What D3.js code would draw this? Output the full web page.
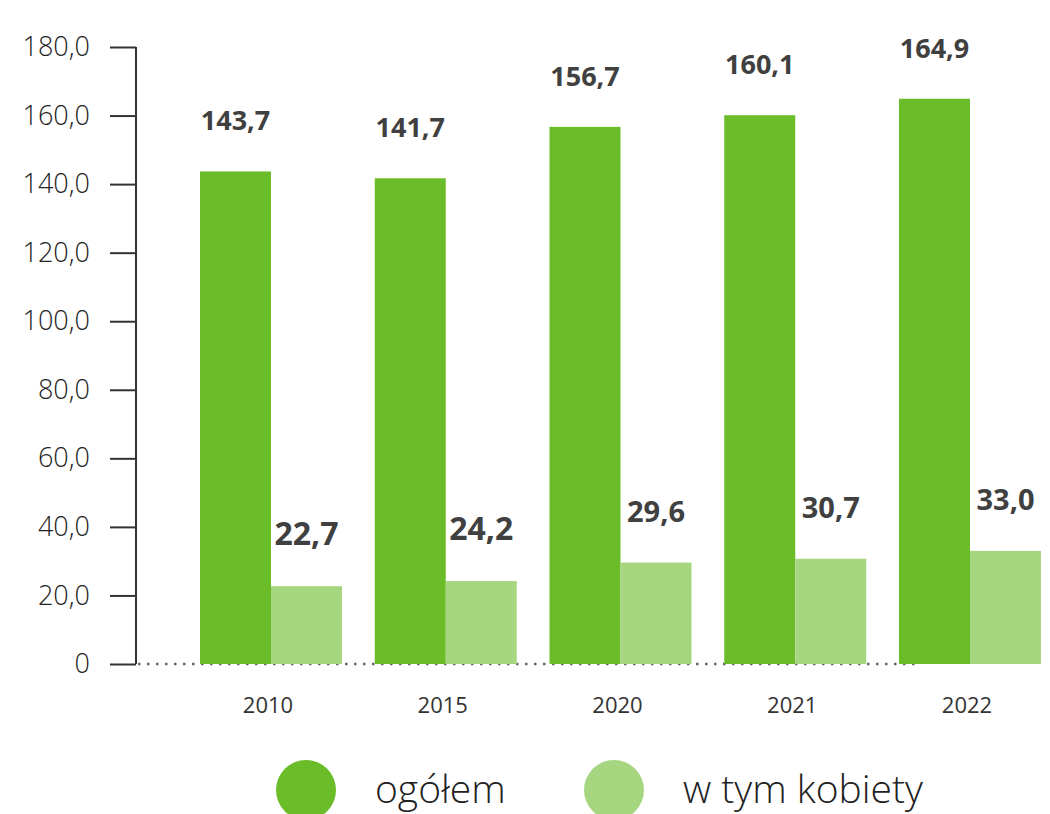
<!DOCTYPE html>
<html lang="pl">
<head>
<meta charset="utf-8">
<title>ogółem / w tym kobiety</title>
<script src="https://cdn.jsdelivr.net/npm/d3@7/dist/d3.min.js"></script>
<style>
  body { margin: 0; background: #fff; }
  svg { display: block; }
</style>
</head>
<body>
<script>
// data
var years = ["2010", "2015", "2020", "2021", "2022"];
var total = [143.7, 141.7, 156.7, 160.1, 164.9];   // ogółem
var women = [22.7, 24.2, 29.6, 30.7, 33.0];        // w tym kobiety
var seriesNames = ["ogółem", "w tym kobiety"];
var yTicks = [0, 20, 40, 60, 80, 100, 120, 140, 160, 180];

var w = 1050, h = 814;
var colors = ["#6abd28", "#a6d780"];
var fontFam = "'Open Sans', 'Noto Sans', sans-serif";

var svg = d3.select("body").append("svg")
  .attr("width", w)
  .attr("height", h);

// scales
var y = d3.scaleLinear().domain([0, 180]).range([664, 47]);
var x0 = d3.scaleBand().domain(years).range([200, 1041])
  .paddingInner(0.1874).paddingOuter(0);
var x1 = d3.scaleBand().domain(seriesNames).range([0, x0.bandwidth()]);

var fmt = function(v) { return v === 0 ? "0" : d3.format(".1f")(v).replace(".", ","); };

// dotted baseline
svg.append("line")
  .attr("x1", 138).attr("x2", 920)
  .attr("y1", y(0)).attr("y2", y(0))
  .attr("stroke", "#666")
  .attr("stroke-width", 2.5)
  .attr("stroke-dasharray", "2.5,6.5");

// bars
var rows = years.map(function(yr, i) {
  return { year: yr, vals: [total[i], women[i]] };
});

var groups = svg.selectAll("g.grp")
  .data(rows)
  .enter().append("g")
  .attr("class", "grp")
  .attr("transform", function(d) { return "translate(" + x0(d.year) + ",0)"; });

groups.selectAll("rect")
  .data(function(d) { return d.vals.map(function(v, j) { return { s: seriesNames[j], v: v, j: j, year: d.year }; }); })
  .enter().append("rect")
  .attr("x", function(d) { return x1(d.s); })
  .attr("width", x1.bandwidth())
  .attr("y", function(d) { return y(d.v); })
  .attr("height", function(d) { return y(0) - y(d.v); })
  .attr("fill", function(d) { return colors[d.j]; });

// value labels (the first two women labels are bigger in the original)
groups.selectAll("text.val")
  .data(function(d) { return d.vals.map(function(v, j) { return { s: seriesNames[j], v: v, j: j, year: d.year }; }); })
  .enter().append("text")
  .attr("class", "val")
  .attr("x", function(d) { return x1(d.s) + x1.bandwidth() / 2; })
  .attr("y", function(d) { return y(d.v) - 41; })
  .attr("text-anchor", "middle")
  .attr("font-family", fontFam)
  .attr("font-weight", 700)
  .attr("font-size", function(d) {
    if (d.j === 1 && (d.year === "2010" || d.year === "2015")) return 32;
    return d.j === 1 ? 29 : 27;
  })
  .attr("fill", "#404040")
  .text(function(d) { return fmt(d.v); });

// y axis
var yAxis = svg.append("g")
  .attr("transform", "translate(136,0)")
  .call(d3.axisLeft(y).tickValues(yTicks).tickFormat(fmt).tickSize(26).tickPadding(20));
yAxis.select(".domain").attr("stroke", "#333").attr("stroke-width", 2)
  .attr("d", "M0," + y(180) + "V" + y(0));
yAxis.selectAll(".tick line").attr("stroke", "#333").attr("stroke-width", 2);
yAxis.selectAll(".tick text")
  .attr("font-family", fontFam)
  .attr("font-weight", 300)
  .attr("font-size", 27)
  .attr("fill", "#222");

// x labels
svg.selectAll("text.year")
  .data(years)
  .enter().append("text")
  .attr("class", "year")
  .attr("x", function(d) { return x0(d) + x1.bandwidth() - 3; })
  .attr("y", 713)
  .attr("text-anchor", "middle")
  .attr("font-family", fontFam)
  .attr("font-size", 22)
  .attr("fill", "#333")
  .text(function(d) { return d; });

// legend
var legX = [306, 614];
var leg = svg.selectAll("g.leg")
  .data(seriesNames)
  .enter().append("g")
  .attr("class", "leg")
  .attr("transform", function(d, i) { return "translate(" + legX[i] + ",790)"; });
leg.append("circle").attr("r", 30).attr("fill", function(d, i) { return colors[i]; });
leg.append("text")
  .attr("x", 69)
  .attr("y", 13)
  .attr("font-family", fontFam)
  .attr("font-weight", 300)
  .attr("font-size", 39)
  .attr("fill", "#222")
  .text(function(d) { return d; });
</script>
</body>
</html>
